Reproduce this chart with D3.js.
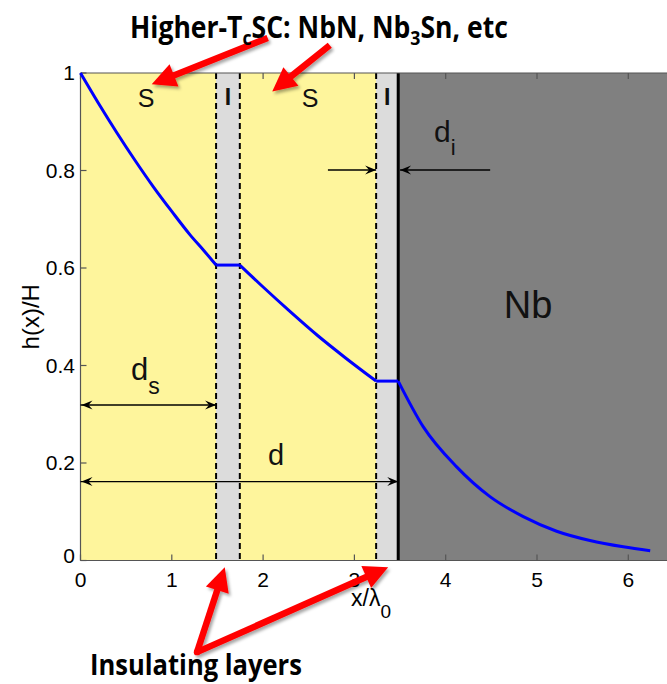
<!DOCTYPE html>
<html><head><meta charset="utf-8">
<script src="https://cdn.jsdelivr.net/npm/d3@7"></script>
<style>body{margin:0;background:#fff}svg{display:block}</style>
</head><body>
<svg id="chart" width="667" height="684"></svg>
<script>
// Field profile h(x)/H through the S-I-S-I-Nb multilayer
const curveX = [0, 0.2, 0.4, 0.6, 0.8, 1.0, 1.2, 1.35, 1.485,
                1.745,
                2.0, 2.3, 2.6, 2.9, 3.238,
                3.48,
                3.755, 4.12, 4.485, 4.85, 5.215, 5.58, 5.945, 6.24];
const curveH = [1, 0.937, 0.877, 0.820, 0.766, 0.716, 0.668, 0.636, 0.606,
                0.606,
                0.561, 0.510, 0.461, 0.416, 0.368,
                0.368,
                0.274, 0.192, 0.131, 0.090, 0.060, 0.041, 0.028, 0.020];

// Layer stack: boundaries along x/λ0 and the material of each layer
const layerEdges = [0, 1.485, 1.745, 3.238, 3.48, 6.5];
const layerKinds = ["S", "I", "S", "I", "Nb"];
const layerFill = {S: "#fef59c", I: "#dcdcdc", Nb: "#808080"};

const xTicks = [0, 1, 2, 3, 4, 5, 6];
const yTicks = [0, 0.2, 0.4, 0.6, 0.8, 1];
const yTickLabels = ["0", "0.2", "0.4", "0.6", "0.8", "1"];

const svg = d3.select("#chart");
const x = d3.scaleLinear().domain([0, 6.5]).range([80.5, 80.5 + 6.5 * 91.3]);
const y = d3.scaleLinear().domain([0, 1]).range([560.5, 73]);

const defs = svg.append("defs");
const shadow = defs.append("filter").attr("id", "shade")
  .attr("x", "-20%").attr("y", "-20%").attr("width", "140%").attr("height", "140%");
shadow.append("feDropShadow").attr("dx", 2).attr("dy", 2.5).attr("stdDeviation", 1.6)
  .attr("flood-color", "#000").attr("flood-opacity", 0.35);

// layer bands
const layers = layerKinds.map((k, i) => ({kind: k, x0: layerEdges[i], x1: layerEdges[i + 1]}));
svg.append("g").selectAll("rect").data(layers).join("rect")
  .attr("x", d => x(d.x0)).attr("width", d => x(d.x1) - x(d.x0))
  .attr("y", y(1)).attr("height", y(0) - y(1))
  .attr("fill", d => layerFill[d.kind]);

// interfaces: dashed around the insulators, solid at the Nb surface
const bound = svg.append("g");
[layerEdges[1], layerEdges[2], layerEdges[3]].forEach(v => {
  bound.append("line").attr("x1", x(v)).attr("x2", x(v)).attr("y1", y(1)).attr("y2", y(0))
    .attr("stroke", "#000").attr("stroke-width", 2).attr("stroke-dasharray", "6,4");
});
bound.append("line").attr("x1", x(layerEdges[4])).attr("x2", x(layerEdges[4]))
  .attr("y1", y(1)).attr("y2", y(0)).attr("stroke", "#000").attr("stroke-width", 3);

// axes frame and ticks
const axisCol = "#555";
const ax = svg.append("g").attr("stroke", axisCol).attr("stroke-width", 1.2);
ax.append("line").attr("x1", x(0)).attr("x2", 667).attr("y1", y(1)).attr("y2", y(1));
ax.append("line").attr("x1", x(0)).attr("x2", 667).attr("y1", y(0)).attr("y2", y(0));
ax.append("line").attr("x1", x(0)).attr("x2", x(0)).attr("y1", y(1)).attr("y2", y(0));
xTicks.forEach(t => {
  ax.append("line").attr("x1", x(t)).attr("x2", x(t)).attr("y1", y(0)).attr("y2", y(0) - 6);
  ax.append("line").attr("x1", x(t)).attr("x2", x(t)).attr("y1", y(1)).attr("y2", y(1) + 6);
});
yTicks.forEach(t => {
  ax.append("line").attr("x1", x(0)).attr("x2", x(0) + 6).attr("y1", y(t)).attr("y2", y(t));
});

const tickFont = "'Liberation Sans', Arial, sans-serif";
svg.append("g").selectAll("text").data(xTicks).join("text")
  .attr("x", d => x(d)).attr("y", 587).attr("text-anchor", "middle")
  .attr("font-family", tickFont).attr("font-size", 21).text(d => d);
svg.append("g").selectAll("text").data(yTicks).join("text")
  .attr("x", 75).attr("y", d => (d === 0 ? y(d) + 2 : y(d) + 7)).attr("text-anchor", "end")
  .attr("font-family", tickFont).attr("font-size", 21).text((d, i) => yTickLabels[i]);

// axis titles
svg.append("text").attr("transform", "translate(39," + y(0.5) + ") rotate(-90)")
  .attr("text-anchor", "middle").attr("font-family", tickFont).attr("font-size", 24).text("h(x)/H");
const xl = svg.append("text").attr("x", 351).attr("y", 606).attr("font-family", tickFont).attr("font-size", 23);
xl.append("tspan").text("x/λ");
xl.append("tspan").attr("dy", 12).attr("font-size", 19).text("0");

// field curve, drawn layer by layer so the kinks at interfaces stay sharp
const pts = curveX.map((v, i) => ({x: v, h: curveH[i]}));
const line = d3.line().x(d => x(d.x)).y(d => y(d.h)).curve(d3.curveMonotoneX);
layers.forEach(L => {
  const seg = pts.filter(p => p.x >= L.x0 - 1e-9 && p.x <= L.x1 + 1e-9);
  if (seg.length > 1) {
    svg.append("path").attr("d", line(seg)).attr("fill", "none")
      .attr("stroke", "#0000ff").attr("stroke-width", 3);
  }
});

// layer letters
const lab = svg.append("g").attr("font-family", tickFont).attr("fill", "#111");
lab.append("text").attr("x", 146).attr("y", 107).attr("text-anchor", "middle").attr("font-size", 25).text("S");
lab.append("text").attr("x", 310).attr("y", 107).attr("text-anchor", "middle").attr("font-size", 25).text("S");
lab.append("text").attr("x", x((layerEdges[1] + layerEdges[2]) / 2)).attr("y", 105)
  .attr("text-anchor", "middle").attr("font-size", 23).attr("font-weight", 700).text("I");
lab.append("text").attr("x", x((layerEdges[3] + layerEdges[4]) / 2)).attr("y", 105)
  .attr("text-anchor", "middle").attr("font-size", 23).attr("font-weight", 700).text("I");
lab.append("text").attr("x", 528).attr("y", 318).attr("text-anchor", "middle").attr("font-size", 38).text("Nb");

// dimension arrows
function headBlack(g, xTip, yTip, dir) {
  const L = 11, W = 4.5;
  g.append("path").attr("d",
    `M${xTip},${yTip} L${xTip - dir * L},${yTip - W} L${xTip - dir * (L - 4)},${yTip} L${xTip - dir * L},${yTip + W} Z`)
    .attr("fill", "#000");
}
const dim = svg.append("g");
function dimLine(xa, xb, h, both) {
  const yy = y(h);
  dim.append("line").attr("x1", x(xa)).attr("x2", x(xb)).attr("y1", yy).attr("y2", yy)
    .attr("stroke", "#000").attr("stroke-width", 1.3);
  headBlack(dim, x(xb), yy, x(xb) > x(xa) ? 1 : -1);
  if (both) headBlack(dim, x(xa) + 1, yy, -1);
}
dimLine(0, layerEdges[1], 0.319, true);
dimLine(0, layerEdges[4], 0.162, true);
dimLine(2.71, layerEdges[3], 0.801, false);
dimLine(4.487, layerEdges[4] + 0.02, 0.801, false);

const dl = svg.append("g").attr("font-family", tickFont).attr("fill", "#111");
const ds = dl.append("text").attr("x", 131).attr("y", 380).attr("font-size", 31);
ds.append("tspan").text("d");
ds.append("tspan").attr("dy", 14).attr("font-size", 23).text("s");
dl.append("text").attr("x", 268).attr("y", 465).attr("font-size", 29).text("d");
const di = dl.append("text").attr("x", 434).attr("y", 142).attr("font-size", 30);
di.append("tspan").text("d");
di.append("tspan").attr("dy", 13).attr("font-size", 22).text("i");

// red call-out arrows
const red = svg.append("g").attr("filter", "url(#shade)");
function redArrow(p, q) {
  const x1 = x(p[0]), y1 = y(p[1]), x2 = x(q[0]), y2 = y(q[1]);
  const a = Math.atan2(y2 - y1, x2 - x1), L = 24, W = 12;
  const bx = x2 - L * Math.cos(a), by = y2 - L * Math.sin(a);
  red.append("line").attr("x1", x1).attr("y1", y1).attr("x2", bx + 3 * Math.cos(a)).attr("y2", by + 3 * Math.sin(a))
    .attr("stroke", "#ff0000").attr("stroke-width", 6.5).attr("stroke-linecap", "butt");
  red.append("path").attr("d",
    `M${x2},${y2} L${bx - W * Math.sin(a)},${by + W * Math.cos(a)} L${bx + W * Math.sin(a)},${by - W * Math.cos(a)} Z`)
    .attr("fill", "#ff0000");
}
redArrow([2.05, 1.072], [0.78, 0.977]);
redArrow([2.73, 1.057], [2.10, 0.962]);
const vtx = [1.276, -0.188];
redArrow(vtx, [1.58, -0.014]);
redArrow(vtx, [3.37, -0.014]);
red.append("circle").attr("cx", x(vtx[0])).attr("cy", y(vtx[1])).attr("r", 3.2).attr("fill", "#ff0000");

// bold call-out captions, fitted to width
function fitted(xs, yb, width, size, build) {
  const t = svg.append("text").attr("x", xs).attr("y", yb)
    .attr("font-family", "'Open Sans', 'Noto Sans', sans-serif").attr("font-weight", 700)
    .attr("font-size", size).attr("fill", "#000");
  build(t);
  const w = t.node().getBBox().width;
  t.attr("transform", `translate(${xs},0) scale(${width / w},1) translate(${-xs},0)`);
}
fitted(130, 38, 378, 30, t => {
  t.append("tspan").text("Higher-T");
  t.append("tspan").attr("dy", 7).attr("font-size", 20).text("c");
  t.append("tspan").attr("dy", -7).text("SC: NbN, Nb");
  t.append("tspan").attr("dy", 7).attr("font-size", 20).text("3");
  t.append("tspan").attr("dy", -7).text("Sn, etc");
});
fitted(90, 675, 212, 29, t => t.text("Insulating layers"));
</script>
</body></html>
